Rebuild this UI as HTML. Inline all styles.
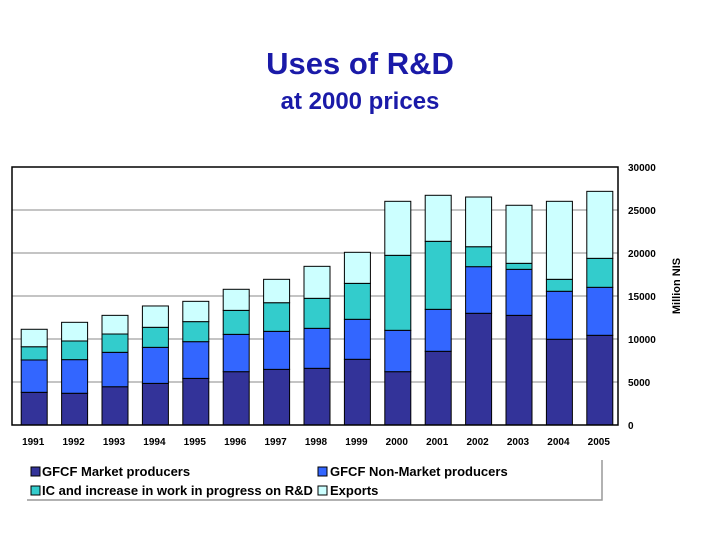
<!DOCTYPE html>
<html><head><meta charset="utf-8"><style>
body{margin:0;background:#fff;}
svg text{font-family:"Liberation Sans",Arial,sans-serif;}
</style></head><body>
<svg id="c" width="720" height="540" xmlns="http://www.w3.org/2000/svg">
<text x="360" y="74" text-anchor="middle" font-size="31" font-weight="bold" fill="#1a1aa8">Uses of R&amp;D</text>
<text x="360" y="109" text-anchor="middle" font-size="24" font-weight="bold" fill="#1a1aa8">at 2000 prices</text>
<g id="grid"></g><g id="bars"></g><g id="axes"></g>
<text transform="translate(680,286) rotate(-90)" text-anchor="middle" font-size="11" font-weight="bold">Million NIS</text>
<g>
<path d="M602 460 V500 H27" fill="none" stroke="#999" stroke-width="1.5"/>
<rect x="31" y="467" width="9" height="9" fill="#333399" stroke="#000"/>
<text x="42" y="476" font-size="13" font-weight="bold">GFCF Market producers</text>
<rect x="318" y="467" width="9" height="9" fill="#3366ff" stroke="#000"/>
<text x="330" y="476" font-size="13" font-weight="bold">GFCF Non-Market producers</text>
<rect x="31" y="486" width="9" height="9" fill="#33cccc" stroke="#000"/>
<text x="42" y="495" font-size="13" font-weight="bold">IC and increase in work in progress on R&amp;D</text>
<rect x="318" y="486" width="9" height="9" fill="#ccffff" stroke="#000"/>
<text x="330" y="495" font-size="13" font-weight="bold">Exports</text>
</g>
</svg>
<script>
const years=["1991","1992","1993","1994","1995","1996","1997","1998","1999","2000","2001","2002","2003","2004","2005"];
const market=[3800,3690,4450,4840,5420,6200,6470,6590,7640,6200,8570,12990,12750,9970,10430];
const nonMarket=[3760,3910,4000,4190,4270,4340,4420,4650,4650,4810,4880,5420,5350,5580,5580];
const icWip=[1540,2170,2130,2330,2330,2790,3330,3490,4180,8720,7910,2320,700,1390,3370];
const exportsV=[2030,2170,2170,2480,2360,2450,2720,3720,3610,6280,5350,5780,6750,9070,7790];
const yTicks=[0,5000,10000,15000,20000,25000,30000];
const NS="http://www.w3.org/2000/svg";
const L=12,R=618,T=167,B=425,MAX=30000;
const y=v=>B-(v/MAX)*(B-T);
const slot=(R-L)/years.length;
const xc=i=>L+slot*(i+0.5);
function mk(t,a,p){const e=document.createElementNS(NS,t);for(const k in a)e.setAttribute(k,a[k]);p.appendChild(e);return e;}
const grid=document.getElementById('grid'),bars=document.getElementById('bars'),axes=document.getElementById('axes');
yTicks.forEach(v=>{
  if(v>0&&v<MAX){const g=mk('line',{x1:L,x2:R,y1:y(v),y2:y(v),stroke:'#888','stroke-width':1},grid);
  
  }
  const t=mk('text',{x:628,y:y(v)+4,'font-size':10,'font-weight':'bold'},axes);t.textContent=v;
  
  
});
const fr=mk('rect',{x:L,y:T,width:R-L,height:B-T,fill:'none',stroke:'#000','stroke-width':1.5},axes);


const series=[[market,'#333399','market'],[nonMarket,'#3366ff','nonmarket'],[icWip,'#33cccc','ic'],[exportsV,'#ccffff','exports']];
const bw=26;
years.forEach((yr,i)=>{
  let base=0;
  series.forEach(([arr,col,nm])=>{
    const top=base+arr[i];
    const r=mk('rect',{x:xc(i)-bw/2+2,y:y(top),width:bw,height:y(base)-y(top),fill:col,stroke:'#000','stroke-width':1},bars);
    
    
    base=top;
  });
  const t=mk('text',{x:xc(i)+1,y:445,'text-anchor':'middle','font-size':10,'font-weight':'bold'},axes);t.textContent=yr;
  
  
});
</script>
</body></html>
